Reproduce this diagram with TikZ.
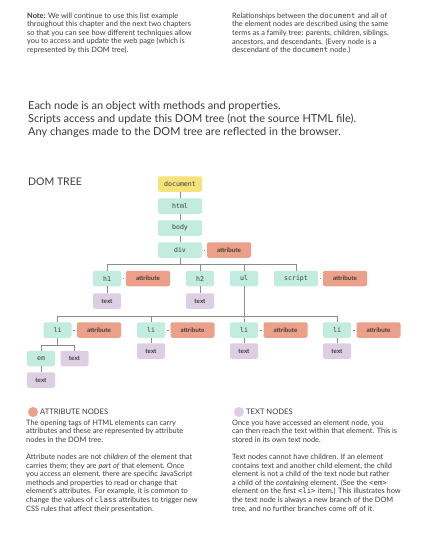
\documentclass[tikz,border=0pt]{standalone}
\usepackage{fontspec}
\setmainfont{Lato}
\setmonofont{DejaVu Sans Mono}
\definecolor{elemc}{RGB}{194,236,222}
\definecolor{attrc}{RGB}{236,160,138}
\definecolor{textc}{RGB}{222,206,228}
\definecolor{docc}{RGB}{246,226,122}
\definecolor{inkc}{RGB}{60,60,60}
\definecolor{linec}{RGB}{140,140,140}
\tikzset{
  box/.style={rounded corners=2pt,inner sep=0pt,minimum height=15.5pt,minimum width=28pt,text=inkc},
  elem/.style={box,fill=elemc,font=\ttfamily\fontsize{6.6}{8}\selectfont},
  wide/.style={minimum width=44pt},
  attr/.style={box,wide,fill=attrc,font=\bfseries\fontsize{6.2}{8}\selectfont},
  txt/.style={box,fill=textc,font=\bfseries\fontsize{6.2}{8}\selectfont},
  para/.style={anchor=north west,inner sep=0pt,align=left,text=inkc,font=\fontsize{7.4}{8.6}\selectfont},
  head/.style={anchor=west,inner sep=0pt,text=inkc,font=\fontsize{7.6}{9}\selectfont},
  link/.style={draw=linec,line width=0.6pt}
}
\begin{document}
\begin{tikzpicture}[x=1pt,y=-1pt]
\useasboundingbox[fill=white] (0,0) rectangle (422,548);
\node[para] (note) at (27,12.5) {\textbf{Note:} We will continue to use this list example\\
throughout this chapter and the next two chapters\\
so that you can see how different techniques allow\\
you to access and update the web page (which is\\
represented by this DOM tree).};
\node[para] (rel) at (232,12.5) {Relationships between the \texttt{document} and all of\\
the element nodes are described using the same\\
terms as a family tree: parents, children, siblings,\\
ancestors, and descendants. (Every node is a\\
descendant of the \texttt{document} node.)};
\node[para,font=\fontsize{11}{12.6}\selectfont] (lead) at (28,101.5) {Each node is an object with methods and properties.\\
Scripts access and update this DOM tree (not the source HTML file).\\
Any changes made to the DOM tree are reflected in the browser.};
\node[anchor=west,inner sep=0pt,text=inkc,font=\fontsize{10.5}{12}\selectfont] (title) at (28,182) {DOM TREE};
\node[elem,wide,fill=docc] (document) at (180,184) {document};
\node[elem,wide] (html) at (180,206) {html};
\node[elem,wide] (body) at (180,228) {body};
\node[elem,wide] (div) at (180,250) {div};
\node[attr] (diva) at (229,250) {attribute};
\node[elem] (h1) at (107,278.5) {h1};
\node[attr] (h1a) at (148,278.5) {attribute};
\node[elem] (h2) at (200,278.5) {h2};
\node[elem] (ul) at (244,278.5) {ul};
\node[elem,wide] (script) at (296,278.5) {script};
\node[attr] (scripta) at (345,278.5) {attribute};
\node[txt] (h1t) at (107,301) {text};
\node[txt] (h2t) at (200,301) {text};
\foreach \i/\x in {1/57.5,2/151,3/244,4/337}{
  \node[elem] (li\i) at (\x,330) {li};
  \node[attr] (li\i a) at (\x+41.5,330) {attribute};
  \draw[link,shorten <=1.5pt,shorten >=1.5pt] (li\i.east) -- (li\i a.west);
  \draw[link] (ul.south) -- ++(0,30) -| (li\i.north);
}
\foreach \i in {2,3,4}{
  \node[txt] (li\i t) at (li\i |- 0,351) {text};
  \draw[link] (li\i) -- (li\i t);
}
\node[elem] (em) at (41,358.5) {em};
\node[txt] (li1t) at (74.5,358.5) {text};
\node[txt] (emt) at (41,380) {text};
\draw[link] (document) -- (html) -- (body) -- (div);
\foreach \c in {h1,h2,ul,script}
  \draw[link] (div.south) -- ++(0,6) -| (\c.north);
\draw[link,shorten <=1.5pt,shorten >=1.5pt] (div.east) -- (diva.west);
\draw[link,shorten <=1.5pt,shorten >=1.5pt] (h1.east) -- (h1a.west);
\draw[link,shorten <=1.5pt,shorten >=1.5pt] (script.east) -- (scripta.west);
\draw[link] (h1) -- (h1t);
\draw[link] (h2) -- (h2t);
\draw[link] (li1.south) -- ++(0,7) -| (em.north);
\draw[link] (li1.south) -- ++(0,7) -| (li1t.north);
\draw[link] (em) -- (emt);
\fill[attrc] (33,412) circle (5);
\node[head] (attrhead) at (40,412) {ATTRIBUTE NODES};
\node[para] (attrpara) at (26,419.5) {The opening tags of HTML elements can carry\\
attributes and these are represented by attribute\\
nodes in the DOM tree.\\[8.6pt]
Attribute nodes are not \textit{children} of the element that\\
carries them; they are \textit{part of} that element. Once\\
you access an element, there are specific JavaScript\\
methods and properties to read or change that\\
element's attributes. For example, it is common to\\
change the values of \texttt{class} attributes to trigger new\\
CSS rules that affect their presentation.};
\fill[textc] (239,412) circle (5);
\node[head] (texthead) at (246,412) {TEXT NODES};
\node[para] (textpara) at (232,419.5) {Once you have accessed an element node, you\\
can then reach the text within that element. This is\\
stored in its own text node.\\[8.6pt]
Text nodes cannot have children. If an element\\
contains text and another child element, the child\\
element is not a child of the text node but rather\\
a child of the \textit{containing} element. (See the \texttt{<em>}\\
element on the first \texttt{<li>} item.) This illustrates how\\
the text node is always a new branch of the DOM\\
tree, and no further branches come off of it.};
\end{tikzpicture}
\end{document}
